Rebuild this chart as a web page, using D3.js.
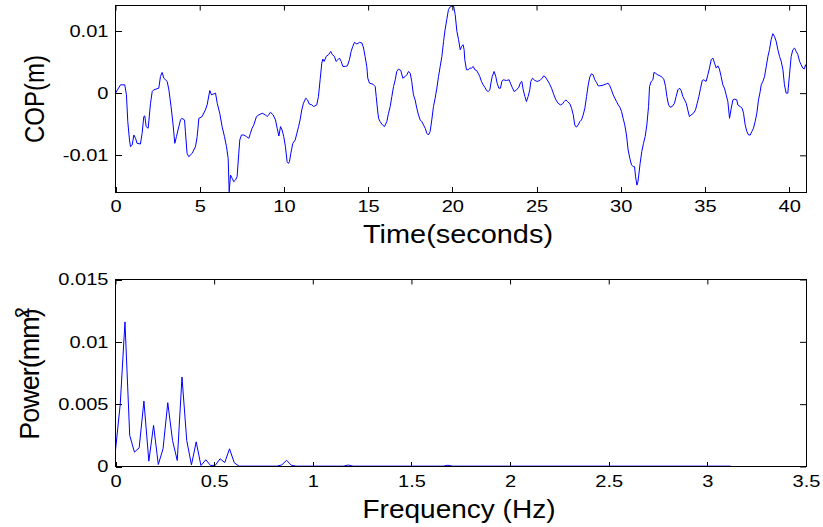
<!DOCTYPE html>
<html>
<head>
<meta charset="utf-8">
<script src="https://cdn.jsdelivr.net/npm/d3@7"></script>
<style>
    body { margin: 0; background: #fff; }
    #chart { width: 823px; height: 527px; }
    text { font-family: "Liberation Sans", Arial, sans-serif; fill: #000; }
</style>
</head>
<body>
<div id="chart"></div>
<script>
/*
    COP trace (top) and its power spectrum (bottom)
    values
*/

// top panel: time (s) and COP displacement (mm, shown in m)
const time = [
    0.00, 0.30, 0.55, 0.65, 0.73, 0.83, 0.89, 0.99, 1.09, 1.19, 1.28, 1.48, 1.58, 1.68, 1.74, 1.82, 1.94, 2.08, 2.18, 2.27,
    2.57, 2.67, 2.77, 2.87, 3.07, 3.17, 3.30, 3.42, 3.52, 3.62, 3.76, 3.86, 3.94, 4.10, 4.15, 4.25, 4.35, 4.55, 4.75, 4.85,
    4.95, 5.14, 5.34, 5.44, 5.60, 5.70, 5.84, 5.94, 6.04, 6.19, 6.33, 6.47, 6.59, 6.69, 6.75, 6.83, 6.93, 7.02, 7.12, 7.22,
    7.32, 7.38, 7.48, 7.62, 7.78, 7.92, 8.01, 8.11, 8.21, 8.37, 8.51, 8.71, 8.91, 9.00, 9.10, 9.20, 9.36, 9.50, 9.60, 9.70,
    9.80, 9.89, 9.99, 10.09, 10.19, 10.27, 10.33, 10.41, 10.53, 10.67, 10.77, 10.87, 10.96, 11.06, 11.16, 11.30, 11.40, 11.50, 11.66, 11.76,
    11.95, 12.05, 12.15, 12.25, 12.31, 12.39, 12.51, 12.65, 12.78, 12.88, 13.00, 13.10, 13.20, 13.30, 13.40, 13.50, 13.64, 13.77, 13.89, 13.99,
    14.09, 14.19, 14.33, 14.49, 14.63, 14.73, 14.82, 14.92, 14.98, 15.08, 15.28, 15.42, 15.48, 15.56, 15.62, 15.71, 15.85, 15.97, 16.11, 16.21,
    16.31, 16.41, 16.51, 16.61, 16.70, 16.80, 16.94, 17.06, 17.20, 17.30, 17.40, 17.50, 17.59, 17.69, 17.79, 17.89, 17.99, 18.09, 18.19, 18.29,
    18.39, 18.49, 18.58, 18.68, 18.78, 18.88, 18.98, 19.08, 19.18, 19.28, 19.38, 19.48, 19.57, 19.67, 19.77, 19.87, 19.97, 20.07, 20.17, 20.27,
    20.37, 20.47, 20.55, 20.64, 20.70, 20.74, 20.84, 20.94, 21.04, 21.14, 21.24, 21.34, 21.44, 21.53, 21.63, 21.73, 21.83, 21.93, 22.03, 22.13,
    22.23, 22.29, 22.37, 22.48, 22.58, 22.66, 22.76, 22.86, 22.94, 23.02, 23.22, 23.37, 23.45, 23.55, 23.67, 23.81, 23.95, 24.05, 24.13, 24.21,
    24.31, 24.40, 24.50, 24.60, 24.66, 24.76, 24.90, 25.04, 25.20, 25.33, 25.43, 25.53, 25.63, 25.75, 25.89, 26.03, 26.15, 26.28, 26.42, 26.54,
    26.64, 26.74, 26.84, 26.98, 27.08, 27.18, 27.27, 27.37, 27.47, 27.57, 27.67, 27.77, 27.87, 27.97, 28.07, 28.16, 28.26, 28.36, 28.46, 28.56,
    28.66, 28.76, 28.96, 29.15, 29.25, 29.35, 29.45, 29.55, 29.65, 29.75, 29.85, 29.95, 30.05, 30.14, 30.24, 30.34, 30.44, 30.54, 30.64, 30.74,
    30.82, 30.88, 30.96, 31.02, 31.07, 31.15, 31.25, 31.35, 31.45, 31.55, 31.65, 31.71, 31.81, 31.91, 31.97, 32.06, 32.20, 32.40, 32.56, 32.66,
    32.74, 32.84, 32.94, 33.05, 33.19, 33.29, 33.39, 33.49, 33.59, 33.69, 33.79, 33.89, 33.98, 34.08, 34.18, 34.32, 34.44, 34.54, 34.64, 34.74,
    34.84, 34.93, 35.07, 35.17, 35.27, 35.37, 35.47, 35.57, 35.67, 35.77, 35.86, 35.96, 36.06, 36.16, 36.26, 36.36, 36.46, 36.56, 36.66, 36.76,
    36.89, 36.95, 37.09, 37.21, 37.29, 37.39, 37.49, 37.59, 37.69, 37.78, 37.88, 37.98, 38.08, 38.18, 38.28, 38.34, 38.44, 38.54, 38.64, 38.74,
    38.83, 38.93, 39.03, 39.13, 39.23, 39.33, 39.43, 39.53, 39.63, 39.72, 39.82, 39.92, 40.02, 40.12, 40.22, 40.32, 40.42, 40.52, 40.62, 40.71,
    40.81, 40.91, 40.97, 41.00
];

const copMm = [
    0.00, 1.34, 1.34, -0.27, -4.58, -7.53, -8.61, -8.34, -6.73, -7.26, -8.07, -8.18, -6.46, -3.77, -3.66, -5.38, -5.65, -1.62, 0.26, 0.53,
    0.80, 2.68, 3.33, 2.41, 1.88, 0.53, -2.16, -5.11, -8.07, -6.99, -5.38, -4.31, -4.04, -4.31, -6.19, -9.68, -10.22, -9.68, -8.61, -6.99,
    -4.04, -3.77, -2.69, -1.89, 0.42, -0.27, -0.11, 0.00, -1.62, -3.23, -5.38, -6.99, -8.61, -10.49, -15.87, -13.18, -13.71, -14.25, -13.98, -13.44,
    -9.68, -7.53, -6.73, -6.73, -6.99, -7.26, -6.46, -5.65, -5.11, -3.77, -3.50, -3.23, -3.50, -3.77, -3.50, -3.07, -3.50, -4.31, -5.65, -6.89,
    -5.38, -5.92, -6.99, -8.61, -11.03, -11.30, -11.03, -9.68, -8.07, -7.53, -6.46, -5.38, -4.31, -2.69, -1.62, -0.81, -1.08, -1.73, -1.89, -2.16,
    -1.89, -0.54, 2.15, 4.83, 5.48, 5.10, 5.91, 6.18, 6.71, 6.18, 5.91, 5.10, 5.37, 5.64, 5.10, 4.30, 4.30, 4.40, 5.37, 6.71,
    7.52, 8.17, 7.90, 8.17, 8.06, 7.25, 5.91, 4.30, 2.41, 1.61, 1.45, 1.07, -0.54, -2.69, -4.04, -4.58, -5.11, -5.38, -4.58, -3.23,
    -2.16, -0.54, 1.07, 2.15, 3.49, 3.87, 3.65, 2.41, 2.68, 2.95, 3.49, 3.22, 1.88, -0.27, -1.08, -2.42, -3.50, -4.31, -4.58, -5.11,
    -5.65, -6.46, -6.73, -6.19, -4.31, -2.16, -0.81, 0.80, 2.68, 4.30, 5.91, 8.33, 10.21, 11.82, 13.44, 13.87, 13.97, 14.08, 12.63, 9.94,
    8.60, 6.98, 7.52, 7.79, 6.98, 5.37, 3.76, 3.76, 4.03, 4.03, 4.30, 3.76, 3.65, 3.22, 2.68, 1.88, 1.34, 0.96, 0.42, 0.26,
    0.53, 1.61, 2.68, 3.49, 2.68, 1.61, 0.80, 0.80, 1.88, 2.15, 2.04, 2.15, 1.61, 0.96, 0.26, 0.53, 0.96, 1.72, 1.88, 0.53,
    -0.54, -1.35, -0.54, 0.53, 1.88, 2.41, 2.04, 1.88, 2.04, 2.41, 2.79, 2.58, 2.15, 1.61, 0.80, -0.27, -1.08, -1.62, -1.89, -1.73,
    -1.35, -1.08, -1.35, -1.73, -2.42, -3.50, -5.11, -5.48, -5.11, -4.58, -4.31, -3.50, -2.42, -0.54, 1.34, 2.58, 3.11, 2.95, 2.15, 1.72,
    1.18, 1.18, 1.29, 1.50, 1.61, 1.18, 0.53, -0.27, -0.81, -1.35, -1.89, -2.26, -2.96, -4.04, -5.11, -6.73, -9.15, -10.49, -11.56, -11.80,
    -11.83, -13.44, -14.79, -14.25, -13.18, -11.30, -9.41, -8.07, -6.99, -5.11, -2.16, 1.07, 1.88, 2.15, 3.33, 3.22, 2.95, 2.68, 2.25, 1.07,
    -0.54, -1.89, -2.26, -2.16, -1.62, -0.54, 0.53, 0.80, 0.42, -0.54, -1.08, -1.62, -2.69, -3.77, -3.50, -3.23, -2.69, -1.62, -0.54, 0.80,
    2.04, 2.15, 1.88, 2.95, 4.03, 5.37, 5.64, 4.83, 4.03, 4.40, 3.87, 2.68, 1.34, 0.80, -0.27, -1.35, -4.04, -2.42, -1.08, -0.97,
    -1.08, -1.89, -2.16, -2.42, -3.23, -5.11, -6.19, -6.73, -6.73, -6.19, -5.65, -4.58, -3.23, -1.08, 0.26, 1.34, 1.88, 2.68, 4.30, 5.91,
    6.98, 8.60, 9.56, 9.13, 8.33, 6.98, 5.91, 5.10, 3.76, 1.34, 0.00, 0.00, 2.95, 5.91, 6.98, 7.25, 6.71, 6.18, 5.10, 4.57,
    4.03, 3.92, 4.57, 4.30
];

// bottom panel: frequency (Hz) and power
const freq = [
    0, 0.024, 0.048, 0.072, 0.096, 0.120, 0.144, 0.169, 0.193, 0.217, 0.241, 0.265, 0.289, 0.313,
    0.337, 0.361, 0.385, 0.409, 0.433, 0.458, 0.482, 0.506, 0.530, 0.554, 0.578, 0.602, 0.626,
    0.819, 0.843, 0.867, 0.891, 0.915, 1.156, 1.180, 1.204, 1.661, 1.685, 1.709, 3.118
];

const power = [
    0.0013, 0.0050, 0.0116, 0.0025, 0.00115, 0.0015, 0.00525, 0.00043, 0.0033, 0.00016, 0.00142, 0.00512, 0.00209, 0.00048,
    0.00718, 0.00209, 0.00013, 0.00198, 0.00008, 0.00054, 0.00008, 0.0001, 0.00062, 0.00032, 0.00142, 0.0003, 0.00003,
    0.00003, 0.00013, 0.0005, 0.0001, 0.00003, 0.00003, 0.00012, 0.00003, 0.00003, 0.0001, 0.00003, 0.00003
];

// tick values
const timeTicks = [0, 5, 10, 15, 20, 25, 30, 35, 40];
const copTicks = [-0.01, 0, 0.01];
const freqTicks = [0, 0.5, 1, 1.5, 2, 2.5, 3, 3.5];
const powerTicks = [0, 0.005, 0.01, 0.015];

/**
    SVG
*/
const width = 823;
const height = 527;

const svg = d3.select("#chart")
    .append("svg")
    .attr("width", width)
    .attr("height", height);

const left = 115.5, right = 806;

// MATLAB-ish box: ticks pointing inward on all four sides, labels bottom/left
function drawFrame(xScale, yScale, xTicks, yTicks) {
    const [y1, y0] = yScale.range();
    const fmt = d => String(d);

    svg.append("g")
        .attr("transform", `translate(0,${y1})`)
        .call(d3.axisBottom(xScale).tickValues(xTicks).tickFormat(fmt)
            .tickSizeInner(-5).tickSizeOuter(0).tickPadding(8))
        .call(g => g.select(".domain").remove())
        .call(stretchLabels);

    svg.append("g")
        .attr("transform", `translate(0,${y0})`)
        .call(d3.axisTop(xScale).tickValues(xTicks).tickFormat("")
            .tickSizeInner(-5).tickSizeOuter(0))
        .call(g => g.select(".domain").remove());

    svg.append("g")
        .attr("transform", `translate(${left},0)`)
        .call(d3.axisLeft(yScale).tickValues(yTicks).tickFormat(fmt)
            .tickSizeInner(-6).tickSizeOuter(0).tickPadding(7))
        .call(g => g.select(".domain").remove())
        .call(stretchLabels);

    svg.append("g")
        .attr("transform", `translate(${right},0)`)
        .call(d3.axisRight(yScale).tickValues(yTicks).tickFormat("")
            .tickSizeInner(-6).tickSizeOuter(0))
        .call(g => g.select(".domain").remove());

    svg.append("rect")
        .attr("x", left)
        .attr("y", y0)
        .attr("width", right - left)
        .attr("height", y1 - y0)
        .attr("fill", "none")
        .attr("stroke", "#000")
        .attr("shape-rendering", "crispEdges");
}

// the tick digits in the picture are wider than plain Arial
function stretchLabels(g) {
    g.attr("font-size", 17).attr("font-family", null);
    g.selectAll(".tick line").attr("shape-rendering", "crispEdges");
    g.selectAll("text")
        .attr("textLength", function() { return this.getComputedTextLength() * 1.18; })
        .attr("lengthAdjust", "spacingAndGlyphs");
}

/**
    TOP: COP over time
*/
const xTime = d3.scaleLinear().domain([0, 41]).range([left, right]);
const yCop = d3.scaleLinear().domain([-0.0159, 0.0141]).range([192, 5.5]);

const copData = time.map((t, i) => ({ t: t, v: copMm[i] / 1000 }));

svg.append("path")
    .datum(copData)
    .attr("fill", "none")
    .attr("stroke", "#0000ff")
    .attr("stroke-width", 1)
    .attr("d", d3.line().x(d => xTime(d.t)).y(d => yCop(d.v)));

drawFrame(xTime, yCop, timeTicks, copTicks);

svg.append("text")
    .attr("x", 458)
    .attr("y", 243)
    .attr("text-anchor", "middle")
    .attr("font-size", 26)
    .attr("textLength", 190)
    .attr("lengthAdjust", "spacingAndGlyphs")
    .text("Time(seconds)");

svg.append("text")
    .attr("transform", "translate(44,99) rotate(-90)")
    .attr("text-anchor", "middle")
    .attr("font-size", 28)
    .attr("textLength", 88)
    .attr("lengthAdjust", "spacingAndGlyphs")
    .text("COP(m)");

/**
    BOTTOM: power spectrum
*/
const xFreq = d3.scaleLinear().domain([0, 3.5]).range([left, right]);
const yPow = d3.scaleLinear().domain([0, 0.015]).range([466.5, 279.5]);

const powData = freq.map((f, i) => ({ f: f, p: power[i] }));

svg.append("path")
    .datum(powData)
    .attr("fill", "none")
    .attr("stroke", "#0000ff")
    .attr("stroke-width", 1)
    .attr("d", d3.line().x(d => xFreq(d.f)).y(d => yPow(d.p)));

drawFrame(xFreq, yPow, freqTicks, powerTicks);

svg.append("text")
    .attr("x", 459)
    .attr("y", 518)
    .attr("text-anchor", "middle")
    .attr("font-size", 26)
    .attr("textLength", 193)
    .attr("lengthAdjust", "spacingAndGlyphs")
    .text("Frequency (Hz)");

const powLabel = svg.append("text")
    .attr("transform", "translate(39,374) rotate(-90)")
    .attr("text-anchor", "middle")
    .attr("font-size", 27)
    .attr("letter-spacing", -1)
    .text("Power(mm");
powLabel.append("tspan").text(")");
powLabel.append("tspan")
    .attr("dx", -9)
    .attr("dy", -10)
    .attr("font-size", 20)
    .text("2");
</script>
</body>
</html>
